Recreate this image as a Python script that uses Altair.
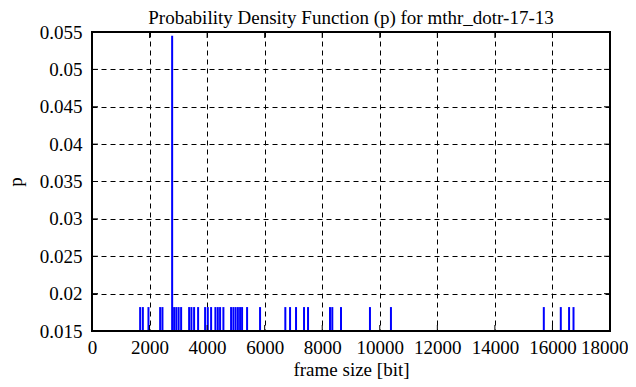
import altair as alt
import pandas as pd

frame_sizes = [1673, 1767, 1962, 2368, 2448, 2785, 2854, 2930, 3010, 3097,
               3375, 3455, 3548, 3687, 3930, 4024, 4139, 4288, 4371, 4451,
               4566, 4833, 4913, 4990, 5069, 5146, 5215, 5389, 5840, 6718,
               6882, 7090, 7368, 7507, 8270, 8350, 8652, 9659, 10388, 15700,
               16290, 16578, 16732]
probs = [0.0182] * len(frame_sizes)
probs[frame_sizes.index(2785)] = 0.0545

x_ticks = [0, 2000, 4000, 6000, 8000, 10000, 12000, 14000, 16000, 18000]
y_ticks = [0.015, 0.02, 0.025, 0.03, 0.035, 0.04, 0.045, 0.05, 0.055]

W, H = 518, 299
FONT = "Liberation Serif"

df = pd.DataFrame({"size": frame_sizes, "p": probs, "base": 0.015})
xt = pd.DataFrame({"size": x_ticks})
yt = pd.DataFrame({"p": y_ticks})

xscale = alt.Scale(domain=[0, 18000], nice=False, zero=False)
yscale = alt.Scale(domain=[0.015, 0.055], nice=False, zero=False)

grid_kw = dict(grid=True, gridColor="black", gridDash=[5, 4], gridWidth=1,
               gridOpacity=1, domain=False, ticks=False,
               labelFont=FONT, labelFontSize=19, labelColor="black",
               titleFont=FONT, titleFontSize=19, titleFontWeight="normal",
               titleColor="black", labelFlush=False)
last_x = x_ticks[-1]
xaxis = alt.Axis(values=x_ticks, format="d", title="frame size [bit]",
                 labelPadding=7, titlePadding=3,
                 labelAlign=alt.ConditionalAxisLabelAlign(
                     condition={"test": f"datum.value == {last_x}", "value": "right"},
                     value="center"),
                 labelOffset=alt.ConditionalAxisNumber(
                     condition={"test": f"datum.value == {last_x}", "value": 18},
                     value=0),
                 **grid_kw)
yaxis = alt.Axis(values=y_ticks, format="~g", title="p",
                 labelPadding=10, titlePadding=14, **grid_kw)

X = alt.X("size:Q", scale=xscale, axis=xaxis)
Y = alt.Y("p:Q", scale=yscale, axis=yaxis)

impulses = alt.Chart(df).mark_rule(color="#0000ff", strokeWidth=2).encode(
    x=X, y=Y, y2="base:Q")

tick_style = dict(color="black", strokeWidth=1)
xb = alt.Chart(xt).mark_rule(**tick_style).encode(
    x=X, y=alt.value(H), y2=alt.value(H - 6))
xtop = alt.Chart(xt).mark_rule(**tick_style).encode(
    x=X, y=alt.value(0), y2=alt.value(6))
yl = alt.Chart(yt).mark_rule(**tick_style).encode(
    y=Y, x=alt.value(0), x2=alt.value(6))
yr = alt.Chart(yt).mark_rule(**tick_style).encode(
    y=Y, x=alt.value(W), x2=alt.value(W - 6))

frame = alt.Chart(xt.head(1)).mark_rect(
    fill=None, filled=False, stroke="black", strokeWidth=2).encode(
    x=alt.value(0), x2=alt.value(W), y=alt.value(0), y2=alt.value(H))

chart = alt.layer(impulses, xb, xtop, yl, yr, frame).properties(
    width=W, height=H,
    title=alt.TitleParams("Probability Density Function (p) for mthr_dotr-17-13",
                          font=FONT, fontSize=19, fontWeight="normal",
                          color="black", anchor="middle", offset=5, dy=10),
    autosize=alt.AutoSizeParams(type="none"),
    padding={"left": 84, "top": 24, "right": 18, "bottom": 48},
).configure_view(stroke="black", strokeWidth=2).configure(background="white")

chart.save("out.html", embed_options={"renderer": "svg", "actions": False})
